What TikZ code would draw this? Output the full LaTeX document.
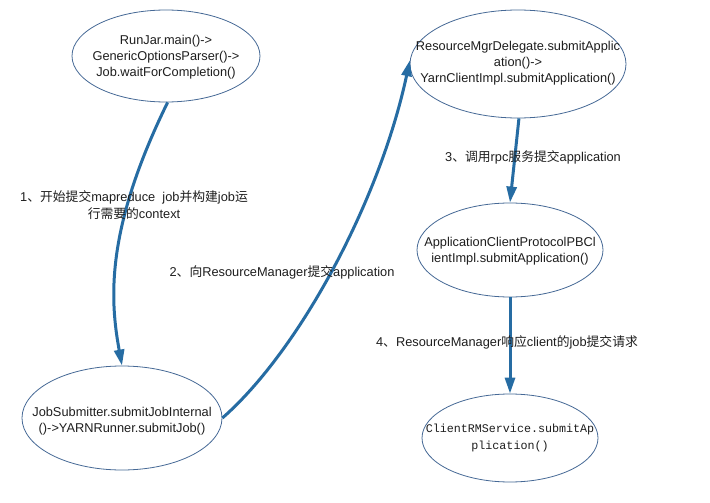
\documentclass[tikz,border=0pt]{standalone}
\usepackage{fontspec}
\setmainfont{Liberation Sans}
\setmonofont{Liberation Mono}
\newfontfamily\cjk{Noto Sans CJK SC}
\usetikzlibrary{arrows.meta,shapes.geometric}
\definecolor{ellcol}{RGB}{70,105,150}
\definecolor{arrcol}{RGB}{38,108,163}
\definecolor{txtcol}{RGB}{30,30,30}
\tikzset{
  ell/.style={draw=ellcol, line width=0.8pt, ellipse, inner sep=0pt},
  etext/.style={align=center, font=\fontsize{12.8}{15.8}\selectfont, text=txtcol, inner sep=0pt},
  mtext/.style={align=center, font=\ttfamily\fontsize{11.7}{17}\selectfont, text=txtcol, inner sep=0pt},
  lbl/.style={align=center, font=\fontsize{12.8}{17}\selectfont, text=txtcol, inner sep=0pt},
  flow/.style={draw=arrcol, line width=3pt, -{Triangle[length=16pt,width=10pt]}},
}
\begin{document}
\begin{tikzpicture}[x=1pt,y=-1pt]
\useasboundingbox (0,0) rectangle (710,503);
\fill[white] (0,0) rectangle (710,503);
% ellipses
\node[ell, minimum width=188pt, minimum height=92pt] (n1) at (166,56) {};
\node[ell, minimum width=216pt, minimum height=108pt] (n2) at (518,64) {};
\node[ell, minimum width=186pt, minimum height=94pt] (n3) at (510,250) {};
\node[ell, minimum width=176pt, minimum height=88pt] (n4) at (510,438) {};
\node[ell, minimum width=200pt, minimum height=104pt] (n5) at (122,418) {};
% texts
\node[etext] (t1) at (166,57) {RunJar.main()->\\GenericOptionsParser()->\\Job.waitForCompletion()};
\node[etext] (t2) at (518,63) {ResourceMgrDelegate.submitApplic\\ation()->\\YarnClientImpl.submitApplication()};
\node[etext] (t3) at (510,251) {ApplicationClientProtocolPBCl\\ientImpl.submitApplication()};
\node[mtext] (t4) at (510,438) {ClientRMService.submitAp\\plication()};
\node[etext] (t5) at (122,421) {JobSubmitter.submitJobInternal\\()->YARNRunner.submitJob()};
% connectors
\draw[flow] (n1.-88) .. controls (105,230) and (110,300) .. (n5.north);
\draw[flow] (n5.east) .. controls (300,350) and (380,200) .. (n2.178);
\draw[flow] (n2.-89) -- (n3.north);
\draw[flow] (n3.south) -- (n4.north);
% labels
\node[lbl] (l1) at (134,205) {1{\cjk 、开始提交}mapreduce\ \ job{\cjk 并构建}job{\cjk 运}\\{\cjk 行需要的}context};
\node[lbl] (l2) at (282,272) {2{\cjk 、向}ResourceManager{\cjk 提交}application};
\node[lbl] (l3) at (533,157) {3{\cjk 、调用}rpc{\cjk 服务提交}application};
\node[lbl] (l4) at (507,342) {4{\cjk 、}ResourceManager{\cjk 响应}client{\cjk 的}job{\cjk 提交请求}};
\end{tikzpicture}
\end{document}
